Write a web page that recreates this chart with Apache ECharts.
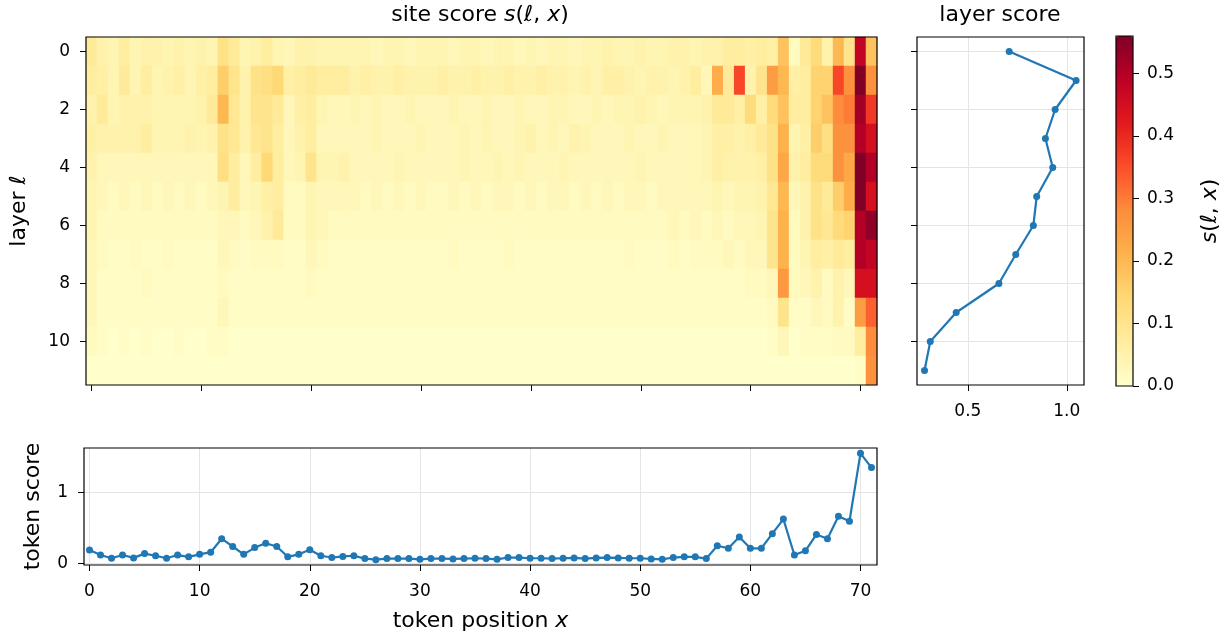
<!DOCTYPE html>
<html>
<head>
<meta charset="utf-8">
<script src="https://cdn.jsdelivr.net/npm/echarts@6/dist/echarts.min.js"></script>
<style>
  html, body { margin: 0; padding: 0; background: #fff; }
  #chart { width: 1231px; height: 637px; }
</style>
</head>
<body>
<div id="chart"></div>
<script>
// site score s(l, x): one row per layer, 72 token positions
const siteScore = [
  [0.08,0.05,0.04,0.07,0.04,0.05,0.05,0.04,0.05,0.04,0.05,0.04,0.11,0.08,0.04,0.05,
   0.07,0.04,0.03,0.05,0.05,0.04,0.04,0.04,0.04,0.04,0.03,0.04,0.04,0.03,0.04,0.04,
   0.04,0.03,0.04,0.04,0.03,0.04,0.04,0.03,0.04,0.03,0.04,0.04,0.03,0.04,0.04,0.05,
   0.04,0.04,0.05,0.04,0.04,0.05,0.05,0.04,0.05,0.05,0.07,0.07,0.06,0.07,0.06,0.18,
   0.02,0.08,0.13,0.05,0.20,0.10,0.48,0.18],
  [0.07,0.06,0.04,0.08,0.04,0.07,0.04,0.05,0.06,0.04,0.06,0.07,0.16,0.10,0.05,0.11,
   0.12,0.14,0.06,0.07,0.08,0.07,0.07,0.07,0.05,0.06,0.05,0.05,0.06,0.05,0.05,0.05,
   0.06,0.05,0.05,0.06,0.05,0.05,0.06,0.05,0.05,0.06,0.05,0.05,0.04,0.05,0.04,0.06,
   0.06,0.05,0.04,0.05,0.05,0.04,0.05,0.07,0.03,0.22,0.08,0.36,0.05,0.10,0.25,0.20,
   0.06,0.07,0.15,0.15,0.36,0.27,0.56,0.27],
  [0.05,0.08,0.04,0.05,0.05,0.05,0.04,0.04,0.04,0.04,0.05,0.08,0.20,0.09,0.05,0.10,
   0.10,0.08,0.03,0.06,0.07,0.04,0.03,0.03,0.04,0.03,0.04,0.03,0.03,0.04,0.03,0.03,
   0.03,0.04,0.03,0.03,0.04,0.03,0.03,0.04,0.03,0.03,0.04,0.04,0.03,0.03,0.04,0.03,
   0.04,0.04,0.05,0.04,0.03,0.04,0.04,0.04,0.05,0.08,0.08,0.06,0.13,0.06,0.13,0.18,
   0.07,0.07,0.15,0.18,0.28,0.30,0.52,0.38],
  [0.06,0.05,0.05,0.05,0.05,0.07,0.04,0.04,0.04,0.05,0.04,0.05,0.11,0.09,0.05,0.09,
   0.10,0.07,0.03,0.05,0.07,0.03,0.03,0.03,0.03,0.03,0.04,0.03,0.03,0.03,0.04,0.03,
   0.03,0.03,0.04,0.03,0.04,0.03,0.03,0.04,0.05,0.03,0.04,0.03,0.05,0.04,0.03,0.03,
   0.03,0.04,0.03,0.03,0.04,0.03,0.03,0.03,0.04,0.06,0.06,0.05,0.06,0.08,0.11,0.21,
   0.04,0.06,0.16,0.12,0.27,0.27,0.50,0.45],
  [0.05,0.03,0.03,0.03,0.03,0.03,0.03,0.03,0.03,0.03,0.03,0.03,0.12,0.07,0.03,0.07,
   0.14,0.07,0.03,0.04,0.10,0.04,0.04,0.05,0.03,0.03,0.03,0.03,0.04,0.03,0.03,0.03,
   0.03,0.03,0.04,0.03,0.03,0.04,0.03,0.04,0.03,0.03,0.03,0.04,0.03,0.03,0.03,0.03,
   0.03,0.03,0.04,0.03,0.03,0.03,0.03,0.03,0.04,0.06,0.05,0.05,0.05,0.06,0.11,0.23,
   0.05,0.07,0.13,0.13,0.27,0.23,0.56,0.50],
  [0.04,0.03,0.02,0.03,0.02,0.03,0.02,0.03,0.02,0.03,0.02,0.03,0.04,0.07,0.03,0.04,
   0.06,0.07,0.02,0.02,0.04,0.03,0.03,0.03,0.03,0.02,0.03,0.02,0.03,0.02,0.03,0.02,
   0.02,0.03,0.02,0.03,0.02,0.03,0.03,0.02,0.03,0.02,0.03,0.03,0.02,0.03,0.02,0.03,
   0.02,0.03,0.03,0.02,0.03,0.03,0.03,0.03,0.03,0.04,0.03,0.04,0.04,0.05,0.09,0.20,
   0.03,0.05,0.11,0.08,0.16,0.22,0.56,0.45],
  [0.04,0.02,0.02,0.02,0.02,0.02,0.02,0.02,0.02,0.02,0.02,0.02,0.03,0.03,0.02,0.03,
   0.05,0.08,0.02,0.02,0.04,0.03,0.02,0.02,0.02,0.02,0.02,0.02,0.02,0.02,0.02,0.02,
   0.02,0.02,0.02,0.02,0.02,0.02,0.02,0.02,0.02,0.02,0.02,0.02,0.02,0.02,0.02,0.02,
   0.02,0.02,0.02,0.02,0.02,0.03,0.02,0.03,0.02,0.03,0.02,0.03,0.03,0.04,0.10,0.21,
   0.02,0.05,0.11,0.09,0.13,0.15,0.50,0.54],
  [0.03,0.02,0.01,0.01,0.02,0.01,0.01,0.02,0.01,0.01,0.01,0.01,0.03,0.02,0.01,0.02,
   0.02,0.02,0.01,0.01,0.03,0.02,0.01,0.01,0.01,0.01,0.01,0.01,0.01,0.01,0.01,0.01,
   0.01,0.02,0.01,0.01,0.01,0.01,0.02,0.01,0.01,0.01,0.01,0.01,0.01,0.01,0.01,0.01,
   0.01,0.02,0.01,0.01,0.01,0.02,0.01,0.02,0.02,0.02,0.03,0.02,0.03,0.03,0.10,0.21,
   0.02,0.04,0.07,0.06,0.08,0.07,0.50,0.48],
  [0.03,0.01,0.01,0.01,0.01,0.02,0.01,0.01,0.01,0.01,0.01,0.01,0.02,0.01,0.01,0.01,
   0.01,0.01,0.01,0.01,0.02,0.01,0.01,0.01,0.01,0.01,0.01,0.01,0.01,0.01,0.01,0.01,
   0.01,0.01,0.01,0.01,0.01,0.01,0.01,0.01,0.01,0.01,0.01,0.01,0.01,0.01,0.01,0.01,
   0.01,0.01,0.01,0.01,0.01,0.01,0.01,0.01,0.01,0.01,0.01,0.01,0.02,0.02,0.03,0.26,
   0.02,0.03,0.05,0.02,0.05,0.03,0.45,0.45],
  [0.03,0.01,0.01,0.01,0.01,0.01,0.01,0.01,0.01,0.01,0.01,0.01,0.03,0.01,0.01,0.01,
   0.01,0.01,0.01,0.01,0.01,0.01,0.01,0.01,0.01,0.01,0.01,0.01,0.01,0.01,0.01,0.01,
   0.01,0.01,0.01,0.01,0.01,0.01,0.01,0.01,0.01,0.01,0.01,0.01,0.01,0.01,0.01,0.01,
   0.01,0.01,0.01,0.01,0.01,0.01,0.01,0.01,0.01,0.01,0.01,0.01,0.01,0.01,0.02,0.10,
   0.01,0.01,0.03,0.02,0.05,0.01,0.25,0.33],
  [0.02,0.01,0.00,0.01,0.00,0.01,0.00,0.00,0.01,0.00,0.00,0.01,0.01,0.00,0.00,0.00,
   0.00,0.00,0.00,0.00,0.00,0.00,0.00,0.00,0.00,0.00,0.00,0.00,0.00,0.00,0.00,0.00,
   0.00,0.00,0.00,0.00,0.00,0.00,0.00,0.00,0.00,0.00,0.00,0.00,0.00,0.00,0.00,0.00,
   0.00,0.00,0.00,0.00,0.00,0.00,0.00,0.00,0.00,0.00,0.00,0.00,0.00,0.00,0.01,0.03,
   0.00,0.01,0.01,0.01,0.02,0.02,0.07,0.28],
  [0.00,0.00,0.00,0.00,0.00,0.00,0.00,0.00,0.00,0.00,0.00,0.00,0.00,0.00,0.00,0.00,
   0.00,0.00,0.00,0.00,0.00,0.00,0.00,0.00,0.00,0.00,0.00,0.00,0.00,0.00,0.00,0.00,
   0.00,0.00,0.00,0.00,0.00,0.00,0.00,0.00,0.00,0.00,0.00,0.00,0.00,0.00,0.00,0.00,
   0.00,0.00,0.00,0.00,0.00,0.00,0.00,0.00,0.00,0.00,0.00,0.00,0.00,0.00,0.00,0.00,
   0.00,0.00,0.00,0.00,0.00,0.00,0.01,0.27]
];

// token score per position (bottom panel)
const tokenScore = [
  0.19,0.12,0.075,0.12,0.08,0.14,0.11,0.075,0.12,0.095,0.13,0.16,0.35,0.24,0.13,0.225,
  0.285,0.24,0.095,0.13,0.195,0.11,0.085,0.10,0.11,
  0.07,0.055,0.07,0.07,0.07,0.06,0.07,0.07,0.065,0.07,0.075,
  0.07,0.06,0.085,0.085,0.075,0.075,0.07,0.075,0.08,0.07,0.08,0.085,0.08,0.075,0.075,
  0.065,0.06,0.085,0.095,0.095,0.07,
  0.25,0.215,0.375,0.215,0.215,0.42,0.625,0.12,0.18,0.41,0.35,0.665,0.595,1.55,1.35
];

// layer score per layer (right panel)
const layerScore = [0.709, 1.047, 0.941, 0.892, 0.929, 0.848, 0.831, 0.742, 0.657, 0.441, 0.310, 0.281];

const tokenPositions = tokenScore.map((v, i) => String(i));
const layers = layerScore.map((v, i) => String(i));

const xTicks = [0, 10, 20, 30, 40, 50, 60, 70];
const layerTicks = [0, 2, 4, 6, 8, 10];
const tokenScoreTicks = [0, 1];
const layerScoreTicks = [0.5, 1.0];
const colorTicks = [0, 0.1, 0.2, 0.3, 0.4, 0.5];

// matplotlib YlOrRd
const ylOrRd = ['#ffffcc', '#ffeda0', '#fed976', '#feb24c', '#fd8d3c', '#fc4e2a', '#e31a1c', '#bd0026', '#800026'];

const heatData = [];
siteScore.forEach((row, l) => {
  row.forEach((v, x) => heatData.push([x, l, v]));
});

const FONT = 'DejaVu Sans';
const BLUE = '#1f77b4';
const GRIDLINE = '#e4e4e4';

const tickStyle = { show: true, length: 6, inside: false, lineStyle: { color: '#000', width: 1 } };
const labelStyle = { color: '#000', fontSize: 17, fontFamily: FONT };
const nameStyle = {
  color: '#000', fontSize: 22, fontFamily: FONT,
  rich: { i: { fontStyle: 'italic', fontSize: 22, fontFamily: FONT, color: '#000' } }
};
const noLine = { show: false, onZero: false };
const frame = { show: true, borderColor: '#000', borderWidth: 1.2, backgroundColor: 'transparent', z: 10 };

const chart = echarts.init(document.getElementById('chart'));

const option = {
  animation: false,
  backgroundColor: '#fff',
  textStyle: { fontFamily: FONT },
  grid: [
    Object.assign({ left: 84, top: 37, width: 793, height: 348 }, frame),
    Object.assign({ left: 84, top: 448, width: 793, height: 117 }, frame),
    Object.assign({ left: 917, top: 37, width: 167, height: 348 }, frame),
    Object.assign({ left: 1116, top: 36, width: 17, height: 350 }, frame)
  ],
  xAxis: [
    {
      gridIndex: 0, type: 'category', data: tokenPositions, boundaryGap: true,
      axisLine: noLine,
      axisTick: Object.assign({ interval: 9, alignWithLabel: true }, tickStyle),
      axisLabel: { show: false, interval: 9 },
      splitLine: { show: false }
    },
    {
      gridIndex: 1, type: 'value', min: -0.5, max: 71.5,
      name: 'token position {i|x}', nameLocation: 'middle', nameGap: 45, nameTextStyle: nameStyle,
      axisLine: noLine,
      axisTick: Object.assign({ customValues: xTicks }, tickStyle),
      axisLabel: Object.assign({ customValues: xTicks, margin: 18 }, labelStyle),
      splitLine: { show: true, lineStyle: { color: GRIDLINE, width: 1 } }
    },
    {
      gridIndex: 2, type: 'value', min: 0.243, max: 1.087,
      axisLine: noLine,
      axisTick: Object.assign({ customValues: layerScoreTicks }, tickStyle),
      axisLabel: Object.assign({ customValues: layerScoreTicks, margin: 18, formatter: v => v.toFixed(1) }, labelStyle),
      splitLine: { show: true, lineStyle: { color: GRIDLINE, width: 1 } }
    },
    { gridIndex: 3, type: 'value', min: 0, max: 1, show: false }
  ],
  yAxis: [
    {
      gridIndex: 0, type: 'category', data: layers, inverse: true, boundaryGap: true,
      name: 'layer {i|ℓ}', nameLocation: 'middle', nameGap: 56, nameRotate: 90, nameTextStyle: nameStyle,
      axisLine: noLine,
      axisTick: Object.assign({ interval: 1, alignWithLabel: true }, tickStyle),
      axisLabel: Object.assign({ interval: 1, margin: 16 }, labelStyle),
      splitLine: { show: false }
    },
    {
      gridIndex: 1, type: 'value', min: -0.02, max: 1.625,
      name: 'token score', nameLocation: 'middle', nameGap: 40, nameRotate: 90, nameTextStyle: nameStyle,
      axisLine: noLine,
      axisTick: Object.assign({ customValues: tokenScoreTicks }, tickStyle),
      axisLabel: Object.assign({ customValues: tokenScoreTicks, margin: 16 }, labelStyle),
      splitLine: { show: true, lineStyle: { color: GRIDLINE, width: 1 } }
    },
    {
      gridIndex: 2, type: 'value', min: -0.5, max: 11.5, inverse: true,
      axisLine: noLine,
      axisTick: Object.assign({ customValues: layerTicks }, tickStyle),
      axisLabel: { show: false, customValues: layerTicks },
      splitLine: { show: true, lineStyle: { color: GRIDLINE, width: 1 } }
    },
    {
      gridIndex: 3, type: 'value', min: 0, max: 0.56, position: 'right',
      name: '{i|s}({i|ℓ}, {i|x})', nameLocation: 'middle', nameGap: 66, nameRotate: 90, nameTextStyle: nameStyle,
      axisLine: noLine,
      axisTick: Object.assign({ customValues: colorTicks }, tickStyle),
      axisLabel: Object.assign({ customValues: colorTicks, margin: 14, formatter: v => v.toFixed(1) }, labelStyle),
      splitLine: { show: false }
    }
  ],
  visualMap: {
    type: 'continuous', seriesIndex: 0, min: 0, max: 0.56,
    calculable: false, orient: 'vertical', left: 1116, top: 36,
    itemWidth: 17, itemHeight: 350, padding: 0, hoverLink: false,
    inRange: { color: ylOrRd }
  },
  graphic: [
    {
      type: 'text', x: 480, y: 15, silent: true,
      style: {
        text: 'site score {i|s}({i|ℓ}, {i|x})', align: 'center', verticalAlign: 'middle',
        fontSize: 22, fontFamily: FONT, fill: '#000',
        rich: { i: { fontStyle: 'italic', fontSize: 22, fontFamily: FONT, fill: '#000' } }
      }
    },
    {
      type: 'text', x: 1000, y: 15, silent: true,
      style: { text: 'layer score', align: 'center', verticalAlign: 'middle', fontSize: 22, fontFamily: FONT, fill: '#000' }
    }
  ],
  series: [
    {
      type: 'heatmap', xAxisIndex: 0, yAxisIndex: 0, data: heatData,
      itemStyle: { borderWidth: 0 },
      emphasis: { disabled: true }
    },
    {
      type: 'line', xAxisIndex: 1, yAxisIndex: 1,
      data: tokenScore.map((v, x) => [x, v]),
      symbol: 'circle', symbolSize: 7,
      lineStyle: { color: BLUE, width: 2.2 },
      itemStyle: { color: BLUE },
      emphasis: { disabled: true }
    },
    {
      type: 'line', xAxisIndex: 2, yAxisIndex: 2,
      data: layerScore.map((v, l) => [v, l]),
      symbol: 'circle', symbolSize: 7,
      lineStyle: { color: BLUE, width: 2.2 },
      itemStyle: { color: BLUE },
      emphasis: { disabled: true }
    }
  ]
};

chart.setOption(option);
</script>
</body>
</html>
